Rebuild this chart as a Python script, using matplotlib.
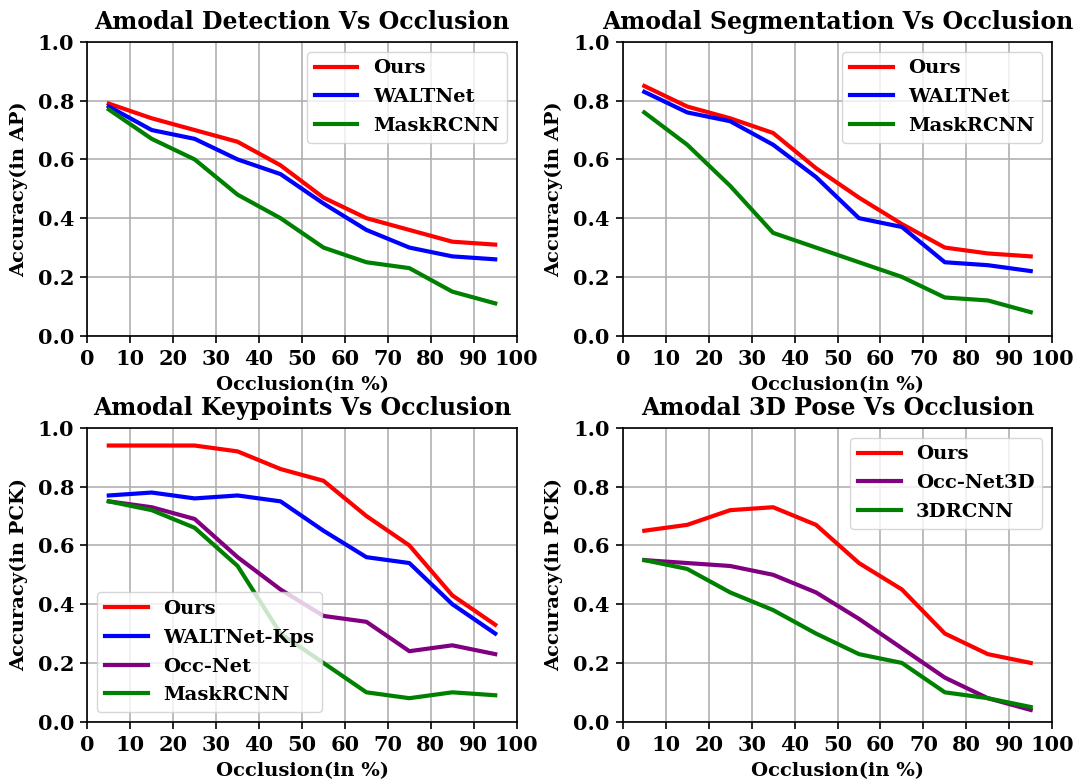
import matplotlib
matplotlib.use("Agg")
import matplotlib.pyplot as plt
import numpy as np

# Occlusion bins (bin centres, in %)
occlusion = [5, 15, 25, 35, 45, 55, 65, 75, 85, 95]

# Amodal detection (AP)
det_ours = [0.79, 0.74, 0.70, 0.66, 0.58, 0.47, 0.40, 0.36, 0.32, 0.31]
det_waltnet = [0.78, 0.70, 0.67, 0.60, 0.55, 0.45, 0.36, 0.30, 0.27, 0.26]
det_maskrcnn = [0.77, 0.67, 0.60, 0.48, 0.40, 0.30, 0.25, 0.23, 0.15, 0.11]

# Amodal segmentation (AP)
seg_ours = [0.85, 0.78, 0.74, 0.69, 0.57, 0.47, 0.38, 0.30, 0.28, 0.27]
seg_waltnet = [0.83, 0.76, 0.73, 0.65, 0.54, 0.40, 0.37, 0.25, 0.24, 0.22]
seg_maskrcnn = [0.76, 0.65, 0.51, 0.35, 0.30, 0.25, 0.20, 0.13, 0.12, 0.08]

# Amodal keypoints (PCK)
kp_ours = [0.94, 0.94, 0.94, 0.92, 0.86, 0.82, 0.70, 0.60, 0.43, 0.33]
kp_waltnet = [0.77, 0.78, 0.76, 0.77, 0.75, 0.65, 0.56, 0.54, 0.40, 0.30]
kp_occnet = [0.75, 0.73, 0.69, 0.56, 0.45, 0.36, 0.34, 0.24, 0.26, 0.23]
kp_maskrcnn = [0.75, 0.72, 0.66, 0.53, 0.30, 0.20, 0.10, 0.08, 0.10, 0.09]

# Amodal 3D pose (PCK)
pose_ours = [0.65, 0.67, 0.72, 0.73, 0.67, 0.54, 0.45, 0.30, 0.23, 0.20]
pose_occnet3d = [0.55, 0.54, 0.53, 0.50, 0.44, 0.35, 0.25, 0.15, 0.08, 0.04]
pose_3drcnn = [0.55, 0.52, 0.44, 0.38, 0.30, 0.23, 0.20, 0.10, 0.08, 0.05]

x_ticks = list(range(0, 101, 10))
y_ticks = [0.0, 0.2, 0.4, 0.6, 0.8, 1.0]

plt.rcParams["font.family"] = "DejaVu Serif"
plt.rcParams["font.weight"] = "bold"

W, H = 1077, 781
fig = plt.figure(figsize=(W / 100, H / 100), dpi=100)

ax_w = 429.4 / W
ax_h = 293.8 / H
lefts = [87.3 / W, 622.8 / W]
bottoms = [(H - 335.7) / H, (H - 721.7) / H]

panels = [
    ("Amodal Detection Vs Occlusion", "Accuracy(in AP)",
     [("Ours", det_ours, "red"), ("WALTNet", det_waltnet, "blue"),
      ("MaskRCNN", det_maskrcnn, "green")], "upper right"),
    ("Amodal Segmentation Vs Occlusion", "Accuracy(in AP)",
     [("Ours", seg_ours, "red"), ("WALTNet", seg_waltnet, "blue"),
      ("MaskRCNN", seg_maskrcnn, "green")], "upper right"),
    ("Amodal Keypoints Vs Occlusion", "Accuracy(in PCK)",
     [("Ours", kp_ours, "red"), ("WALTNet-Kps", kp_waltnet, "blue"),
      ("Occ-Net", kp_occnet, "purple"), ("MaskRCNN", kp_maskrcnn, "green")],
     "lower left"),
    ("Amodal 3D Pose Vs Occlusion", "Accuracy(in PCK)",
     [("Ours", pose_ours, "red"), ("Occ-Net3D", pose_occnet3d, "purple"),
      ("3DRCNN", pose_3drcnn, "green")], "upper right"),
]

for i, (title, ylabel, series, loc) in enumerate(panels):
    row, col = divmod(i, 2)
    ax = fig.add_axes([lefts[col], bottoms[row], ax_w, ax_h])
    for name, vals, color in series:
        ax.plot(occlusion, vals, color=color, linewidth=3, label=name)
    ax.set_xlim(0, 100)
    ax.set_ylim(0, 1.0)
    ax.set_xticks(x_ticks)
    ax.set_yticks(y_ticks)
    ax.grid(True, color="#b0b0b0", linewidth=1.2)
    ax.set_axisbelow(True)
    ax.tick_params(labelsize=15, width=1.2, length=5, pad=4.5)
    for lab in ax.get_xticklabels() + ax.get_yticklabels():
        lab.set_fontweight("bold")
    for sp in ax.spines.values():
        sp.set_linewidth(1.2)
    ax.set_title(title, fontsize=17, fontweight="bold", pad=9)
    ax.set_xlabel("Occlusion(in %)", fontsize=14, fontweight="bold", labelpad=5)
    ax.set_ylabel(ylabel, fontsize=14, fontweight="bold", labelpad=7)
    ax.legend(loc=loc, prop={"size": 14, "weight": "bold"}, handlelength=2.2,
              labelspacing=0.55)

fig.savefig("out.png", dpi=100)
